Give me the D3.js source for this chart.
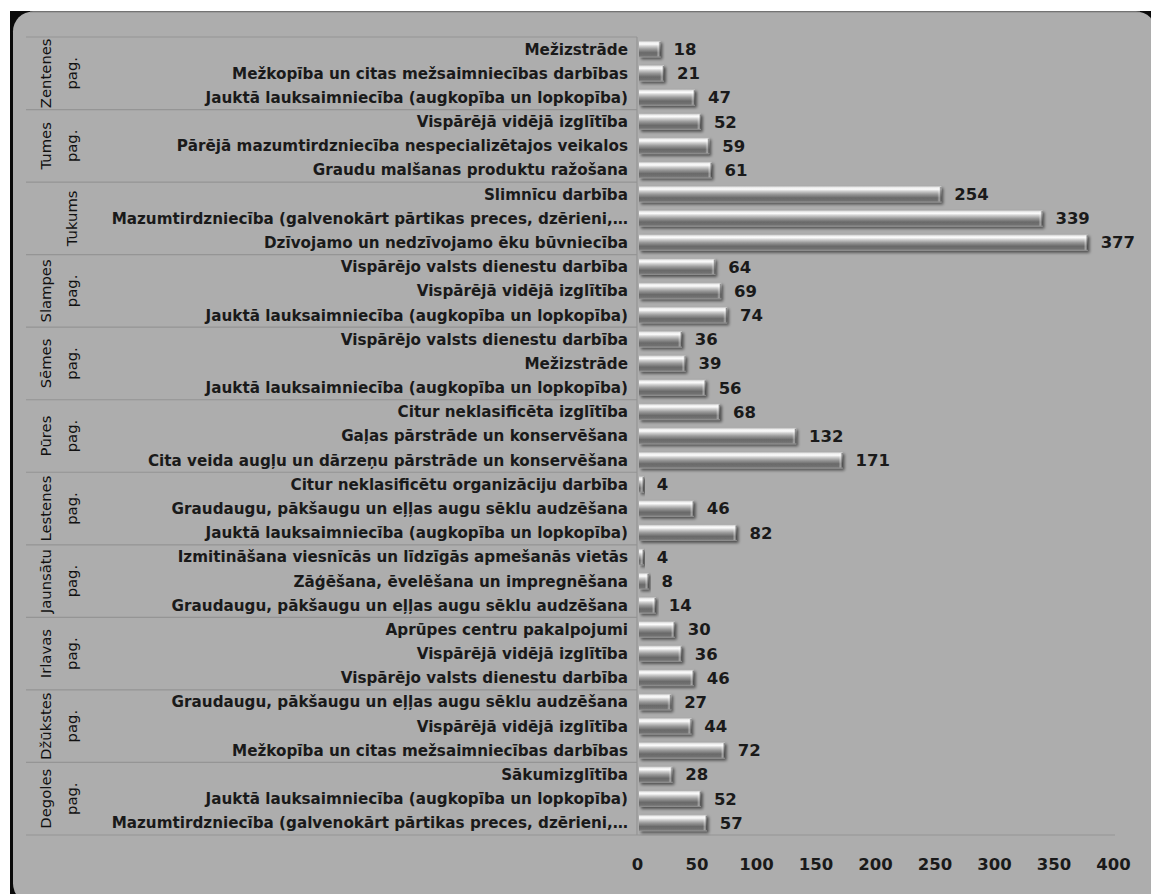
<!DOCTYPE html>
<html><head><meta charset="utf-8">
<script src="https://cdn.jsdelivr.net/npm/d3@7"></script>
<style>body{margin:0;background:#fff;overflow:hidden}</style>
</head><body>
<svg id="c" width="1151" height="894"></svg>
<script>
const groupNames = ["Zentenes", "Tumes", "Tukums", "Slampes", "Sēmes", "Pūres", "Lestenes", "Jaunsātu", "Irlavas", "Džūkstes", "Degoles"];
const groupSuffix = ["pag.", "pag.", "", "pag.", "pag.", "pag.", "pag.", "pag.", "pag.", "pag.", "pag."];
const categories = [
  "Mežizstrāde", "Mežkopība un citas mežsaimniecības darbības", "Jauktā lauksaimniecība (augkopība un lopkopība)",
  "Vispārējā vidējā izglītība", "Pārējā mazumtirdzniecība nespecializētajos veikalos", "Graudu malšanas produktu ražošana",
  "Slimnīcu darbība", "Mazumtirdzniecība (galvenokārt pārtikas preces, dzērieni,…", "Dzīvojamo un nedzīvojamo ēku būvniecība",
  "Vispārējo valsts dienestu darbība", "Vispārējā vidējā izglītība", "Jauktā lauksaimniecība (augkopība un lopkopība)",
  "Vispārējo valsts dienestu darbība", "Mežizstrāde", "Jauktā lauksaimniecība (augkopība un lopkopība)",
  "Citur neklasificēta izglītība", "Gaļas pārstrāde un konservēšana", "Cita veida augļu un dārzeņu pārstrāde un konservēšana",
  "Citur neklasificētu organizāciju darbība", "Graudaugu, pākšaugu un eļļas augu sēklu audzēšana", "Jauktā lauksaimniecība (augkopība un lopkopība)",
  "Izmitināšana viesnīcās un līdzīgās apmešanās vietās", "Zāģēšana, ēvelēšana un impregnēšana", "Graudaugu, pākšaugu un eļļas augu sēklu audzēšana",
  "Aprūpes centru pakalpojumi", "Vispārējā vidējā izglītība", "Vispārējo valsts dienestu darbība",
  "Graudaugu, pākšaugu un eļļas augu sēklu audzēšana", "Vispārējā vidējā izglītība", "Mežkopība un citas mežsaimniecības darbības",
  "Sākumizglītība", "Jauktā lauksaimniecība (augkopība un lopkopība)", "Mazumtirdzniecība (galvenokārt pārtikas preces, dzērieni,…"
];
const groupIndex = [0,0,0, 1,1,1, 2,2,2, 3,3,3, 4,4,4, 5,5,5, 6,6,6, 7,7,7, 8,8,8, 9,9,9, 10,10,10];
const values = [18, 21, 47, 52, 59, 61, 254, 339, 377, 64, 69, 74, 36, 39, 56, 68, 132, 171, 4, 46, 82, 4, 8, 14, 30, 36, 46, 27, 44, 72, 28, 52, 57];
const tickValues = [0, 50, 100, 150, 200, 250, 300, 350, 400];

const svg = d3.select("#c");
const defs = svg.append("defs");

// frame
svg.append("rect").attr("x",10).attr("y",11).attr("width",1141).attr("height",883).attr("fill","#0a0a0a");
svg.append("rect").attr("x",13).attr("y",11.5).attr("width",1143).attr("height",892).attr("rx",20).attr("fill","#adadad");
svg.append("line").attr("x1",30).attr("x2",1140).attr("y1",12).attr("y2",12).attr("stroke","#8a8a8a").attr("stroke-width",1);

// bar gradients
const bg = defs.append("linearGradient").attr("id","barG").attr("x1","0").attr("x2","0").attr("y1","0").attr("y2","1");
[["0%","#b5b5b5"],["10%","#eeeeee"],["20%","#fbfbfb"],["32%","#cfcfcf"],["50%","#9a9a9a"],["72%","#6a6a6a"],["88%","#707070"],["100%","#949494"]]
  .forEach(([o,c]) => bg.append("stop").attr("offset",o).attr("stop-color",c));
const cg = defs.append("linearGradient").attr("id","capG").attr("x1","0").attr("x2","1").attr("y1","0").attr("y2","0");
[["0%","rgba(255,255,255,0)"],["45%","rgba(255,255,255,0.35)"],["100%","rgba(40,40,40,0.8)"]]
  .forEach(([o,c]) => cg.append("stop").attr("offset",o).attr("stop-color",c));
const sh = defs.append("filter").attr("id","shadow").attr("x","-10%").attr("y","-50%").attr("width","130%").attr("height","220%");
sh.append("feGaussianBlur").attr("in","SourceAlpha").attr("stdDeviation",1.6).attr("result","b");
sh.append("feOffset").attr("in","b").attr("dx",2).attr("dy",2).attr("result","o");
sh.append("feComponentTransfer").attr("in","o").attr("result","s").append("feFuncA").attr("type","linear").attr("slope",0.55);
const mg = sh.append("feMerge"); mg.append("feMergeNode").attr("in","s"); mg.append("feMergeNode").attr("in","SourceGraphic");

const x = d3.scaleLinear().domain([0, 400]).range([637, 1113]);
const y = d3.scaleBand().domain(d3.range(categories.length)).range([37, 835]).paddingInner(0.32).paddingOuter(0.16);
const step = y.step();
const plotTop = 37, plotBottom = 835, leftX = 26;

// group separators
const lineCol = "#959595";
for (let g = 0; g <= groupNames.length; g++) {
  const yy = plotTop + g * 3 * step;
  svg.append("line").attr("x1", leftX).attr("x2", g === groupNames.length ? x(400) + 2 : x(0))
    .attr("y1", yy).attr("y2", yy).attr("stroke", lineCol).attr("stroke-width", 1.2);
}
svg.append("line").attr("x1", x(0)).attr("x2", x(0)).attr("y1", plotTop).attr("y2", plotBottom).attr("stroke", lineCol).attr("stroke-width", 1.2);

// category labels
svg.append("g").selectAll("text").data(categories).join("text")
  .attr("x", x(0) - 9).attr("y", (d,i) => y(i) + y.bandwidth()/2).attr("dy","0.36em")
  .attr("text-anchor","end").attr("font-family","DejaVu Sans").attr("font-weight","bold")
  .attr("font-size","15.2px").attr("fill","#1a1a1a").text(d => d);

// group labels
groupNames.forEach((name, g) => {
  const cy = plotTop + (g * 3 + 1.5) * step;
  const two = groupSuffix[g] !== "";
  const lines = two ? [[name, 46],[groupSuffix[g], 72]] : [[name, 72]];
  lines.forEach(([t, cx]) => {
    svg.append("text").attr("transform", `translate(${cx},${cy}) rotate(-90)`)
      .attr("text-anchor","middle").attr("dy","0.36em")
      .attr("font-family","DejaVu Sans").attr("font-size","14.8px").attr("fill","#111").text(t);
  });
});

// bars
const bars = svg.append("g").selectAll("g").data(values).join("g");
bars.append("rect").attr("x", x(0) + 2).attr("y", (d,i) => y(i)).attr("width", d => Math.max(1, x(d) - x(0)))
  .attr("height", y.bandwidth()).attr("fill","url(#barG)").attr("filter","url(#shadow)");
bars.append("rect").attr("x", d => Math.max(x(0) + 2, x(d) + 2 - 4)).attr("y", (d,i) => y(i) + 1)
  .attr("width", d => Math.min(4, Math.max(1, x(d) - x(0)))).attr("height", y.bandwidth() - 2).attr("fill","url(#capG)");

// value labels
svg.append("g").selectAll("text").data(values).join("text")
  .attr("x", d => x(d) + 15).attr("y", (d,i) => y(i) + y.bandwidth()/2).attr("dy","0.36em")
  .attr("font-family","DejaVu Sans").attr("font-weight","bold").attr("font-size","16.5px").attr("fill","#1a1a1a")
  .text(d => d);

// x axis
const ax = svg.append("g").attr("transform", `translate(0,${plotBottom})`)
  .call(d3.axisBottom(x).tickValues(tickValues).tickSize(0).tickPadding(23));
ax.select(".domain").remove();
ax.selectAll("text").attr("font-family","DejaVu Sans").attr("font-weight","bold").attr("font-size","16.5px").attr("fill","#1a1a1a");
</script>
</body></html>
